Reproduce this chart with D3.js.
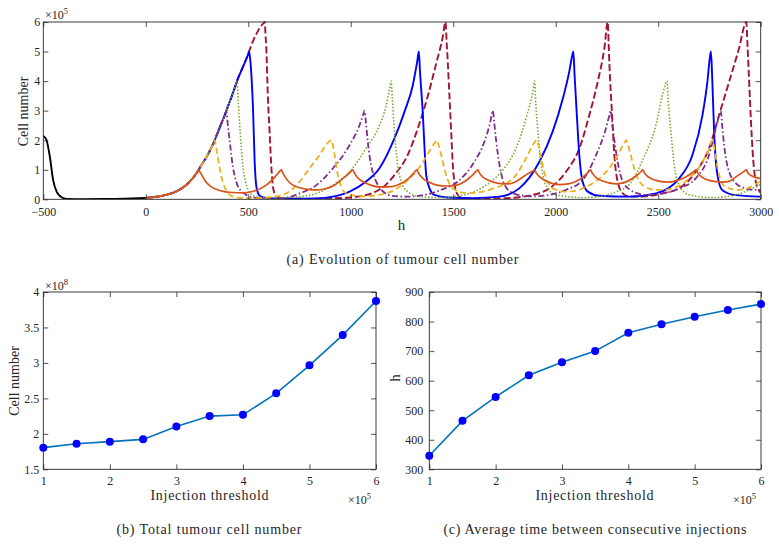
<!DOCTYPE html>
<html>
<head>
<meta charset="utf-8">
<script src="https://d3js.org/d3.v7.min.js"></script>
<style>
  body { margin: 0; background: #fff; }
  text { font-family: "Liberation Serif", "Times New Roman", serif; fill: #262626; }
</style>
</head>
<body>
<div id="fig"></div>
<script>
const W = 779, H = 559;

// ---- (a) time courses, t in h, values in 1e5 cells ----
const xTicksA = [-500, 0, 500, 1000, 1500, 2000, 2500, 3000];
const yTicksA = [0, 1, 2, 3, 4, 5, 6];

// untreated phase before t = 0
const blackPts = [[-500,2.14],[-496,2.12],[-484,2.0],[-468,1.44],[-452,0.65],[-435,0.26],[-420,0.12],
  [-411,0.07],[-386,0.015],[-300,0.006],[-200,0.008],[-100,0.02],[-40,0.035],[0,0.05]];

// shared growth after t = 0, up to the first injection of each threshold
const growth = [[0,0.05],[50,0.085],[100,0.15],[150,0.27],[200,0.5],[230,0.72],[252,0.93],[258,1.0],
  [280,1.25],[300,1.47],[320,1.75],[330,1.9],[336,2.0],[365,2.5],[388,2.9],[393,3.0],[420,3.5],
  [440,3.9],[445,4.0],[475,4.5],[499,4.9],[504,5.0],[520,5.3],[540,5.6],[560,5.85],[575,5.96],[580,6.0]];

const orangePts = [[264,0.93],[275,0.8],[290,0.62],[320,0.42],[360,0.3],[420,0.23],[480,0.22],[530,0.28],
  [588,0.48],[620,0.68],[640,0.84],[655,0.96],[661,1.0],[668,0.9],[685,0.7],[702,0.56],[751,0.39],
  [800,0.33],[832,0.32],[870,0.35],[913,0.45],[962,0.71],[995,0.9],[1004,0.97],[1010,1.0],[1017,0.9],
  [1035,0.72],[1059,0.6],[1100,0.47],[1140,0.42],[1180,0.42],[1220,0.46],[1278,0.68],[1305,0.87],
  [1316,0.96],[1322,1.0],[1329,0.9],[1350,0.72],[1376,0.6],[1420,0.48],[1470,0.45],[1510,0.47],
  [1571,0.68],[1600,0.86],[1614,0.96],[1620,1.0],[1627,0.9],[1645,0.75],[1669,0.65],[1720,0.54],
  [1770,0.52],[1806,0.6],[1863,0.86],[1890,0.96],[1897,1.0],[1904,0.9],[1925,0.74],[1953,0.62],
  [2018,0.5],[2060,0.52],[2099,0.6],[2148,0.84],[2164,0.96],[2170,1.0],[2177,0.9],[2200,0.72],
  [2229,0.62],[2294,0.52],[2340,0.58],[2390,0.78],[2418,0.95],[2425,1.0],[2432,0.9],[2455,0.74],
  [2489,0.64],[2540,0.58],[2570,0.6],[2630,0.74],[2676,0.95],[2685,1.0],[2692,0.9],[2715,0.74],
  [2748,0.64],[2813,0.58],[2850,0.62],[2879,0.76],[2922,0.96],[2930,1.0],[2937,0.9],[2960,0.78],[3000,0.7]];

const yellowPts = [[342,1.8],[352,1.4],[362,1.0],[375,0.6],[392,0.3],[415,0.13],[450,0.06],[520,0.04],
  [600,0.07],[669,0.15],[751,0.6],[799,1.05],[848,1.5],[880,1.85],[898,1.97],[905,2.0],[912,1.85],
  [921,1.5],[937,0.82],[950,0.5],[962,0.3],[994,0.16],[1059,0.1],[1140,0.15],[1197,0.26],[1278,0.65],
  [1343,1.16],[1392,1.72],[1414,1.95],[1421,2.0],[1428,1.85],[1441,1.5],[1465,0.82],[1480,0.55],
  [1498,0.37],[1555,0.22],[1600,0.22],[1636,0.25],[1700,0.38],[1749,0.5],[1806,0.82],[1855,1.38],
  [1892,1.88],[1908,2.0],[1915,1.85],[1929,1.38],[1953,0.71],[1970,0.48],[1985,0.37],[2050,0.26],
  [2090,0.28],[2131,0.37],[2213,0.71],[2294,1.38],[2330,1.85],[2345,2.0],[2352,1.85],[2362,1.6],
  [2383,1.05],[2405,0.65],[2424,0.48],[2489,0.32],[2530,0.32],[2570,0.37],[2651,0.71],[2716,1.27],
  [2750,1.75],[2760,1.95],[2765,2.0],[2772,1.8],[2790,1.05],[2815,0.5],[2850,0.36],[2895,0.32],
  [2950,0.42],[3000,0.62]];

const purplePts = [[399,2.6],[409,2.0],[425,1.1],[437,0.7],[450,0.43],[470,0.25],[490,0.15],[539,0.05],
  [600,0.03],[669,0.04],[751,0.2],[832,0.48],[913,1.05],[994,1.83],[1043,2.51],[1060,2.85],[1067,3.0],
  [1074,2.6],[1083,1.95],[1099,1.16],[1112,0.8],[1124,0.6],[1140,0.4],[1165,0.22],[1197,0.12],
  [1278,0.09],[1360,0.15],[1441,0.32],[1522,0.6],[1603,1.27],[1652,1.95],[1680,2.6],[1689,2.9],
  [1693,3.0],[1700,2.6],[1709,2.0],[1725,1.2],[1740,0.7],[1758,0.4],[1780,0.25],[1806,0.17],
  [1888,0.1],[1969,0.15],[2050,0.32],[2131,0.65],[2197,1.5],[2245,2.4],[2262,2.85],[2268,3.0],
  [2275,2.6],[2286,2.0],[2302,1.27],[2315,0.85],[2327,0.6],[2359,0.34],[2400,0.2],[2440,0.15],
  [2521,0.2],[2602,0.37],[2683,0.71],[2748,1.5],[2781,2.4],[2798,2.85],[2805,3.0],[2812,2.5],
  [2822,1.8],[2834,1.25],[2846,0.93],[2879,0.54],[2927,0.37],[2970,0.32],[3000,0.32]];

const greenPts = [[451,3.3],[461,2.23],[474,1.1],[486,0.6],[499,0.32],[515,0.17],[539,0.09],[600,0.05],
  [669,0.06],[751,0.09],[832,0.2],[913,0.48],[994,0.93],[1075,1.73],[1140,2.5],[1170,3.1],[1190,3.75],
  [1197,4.0],[1203,3.4],[1213,2.29],[1229,1.16],[1246,0.6],[1260,0.38],[1278,0.26],[1327,0.1],
  [1441,0.06],[1530,0.12],[1603,0.26],[1684,0.6],[1749,1.05],[1806,1.72],[1855,2.74],[1888,3.64],
  [1897,4.0],[1903,3.2],[1912,2.4],[1920,1.72],[1937,0.82],[1961,0.37],[2002,0.15],[2131,0.06],
  [2220,0.1],[2294,0.25],[2359,0.5],[2424,1.33],[2489,2.51],[2529,3.75],[2543,4.0],[2549,3.3],
  [2562,2.29],[2578,1.16],[2602,0.48],[2651,0.15],[2765,0.06],[2879,0.15],[2944,0.32],[3000,0.5]];

const bluePts = [[510,4.7],[517,4.0],[523,3.1],[531,1.3],[539,0.45],[547,0.22],[560,0.1],[588,0.05],
  [700,0.02],[832,0.03],[913,0.09],[994,0.26],[1075,0.6],[1140,1.05],[1213,2.06],[1262,2.96],
  [1303,3.87],[1325,4.7],[1332,5.0],[1338,4.3],[1352,2.85],[1360,1.73],[1368,0.82],[1384,0.38],
  [1408,0.15],[1473,0.06],[1600,0.04],[1725,0.09],[1822,0.37],[1920,1.27],[1985,2.29],[2035,3.42],
  [2066,4.32],[2080,4.85],[2086,5.0],[2092,4.2],[2103,2.85],[2115,1.5],[2131,0.6],[2156,0.26],
  [2213,0.12],[2359,0.09],[2489,0.2],[2602,0.71],[2667,1.5],[2716,2.85],[2740,3.98],[2752,4.8],
  [2757,5.0],[2763,4.2],[2773,2.23],[2789,0.82],[2813,0.31],[2879,0.14],[2992,0.09],[3000,0.09]];

const redPts = [[584,5.6],[588,5.1],[596,3.42],[604,2.29],[612,1.16],[620,0.45],[628,0.2],[637,0.09],
  [669,0.03],[800,0.015],[900,0.03],[994,0.06],[1043,0.1],[1116,0.24],[1165,0.45],[1213,0.82],
  [1278,1.5],[1327,2.4],[1376,3.5],[1417,4.6],[1449,5.5],[1462,6.0],[1468,5.3],[1474,4.55],
  [1482,3.42],[1490,2.29],[1498,1.16],[1506,0.55],[1514,0.26],[1538,0.06],[1600,0.03],[1725,0.03],
  [1888,0.15],[1969,0.37],[2050,0.93],[2115,1.72],[2164,2.85],[2205,3.98],[2237,5.1],[2254,6.0],
  [2258,5.3],[2262,4.55],[2275,2.85],[2286,1.5],[2302,0.6],[2327,0.2],[2359,0.09],[2440,0.1],
  [2521,0.2],[2602,0.37],[2683,0.93],[2748,1.72],[2797,2.85],[2846,3.98],[2894,5.1],[2930,6.0],
  [2935,5.3],[2940,4.55],[2951,2.85],[2963,1.38],[2976,0.6],[2992,0.3],[3000,0.22]];

const thresholds = [1, 2, 3, 4, 5, 6];

// ---- (b), (c) ----
const injThreshold = [1, 1.5, 2, 2.5, 3, 3.5, 4, 4.5, 5, 5.5, 6];        // x 1e5
const totalCells = [1.805, 1.86, 1.89, 1.922, 2.105, 2.25, 2.268, 2.571, 2.966, 3.392, 3.873]; // x 1e8
const avgTime = [346, 464, 545, 618, 662, 700, 762, 791, 816, 839, 859];  // h
const xTicksBC = [1, 2, 3, 4, 5, 6];
const yTicksB = [1.5, 2, 2.5, 3, 3.5, 4];
const yTicksC = [300, 400, 500, 600, 700, 800, 900];

const svg = d3.select("#fig").append("svg").attr("width", W).attr("height", H);
const AX = "#262626";

function frame(x, y, xt, yt, xfmt, yfmt, xpad, ypad) {
  const [x0, x1] = x.range(), [y0, y1] = y.range();
  const g = svg.append("g");
  g.append("g").attr("transform", `translate(0,${y0})`)
    .call(d3.axisBottom(x).tickValues(xt).tickFormat(xfmt).tickSizeInner(-5).tickSizeOuter(0).tickPadding(xpad));
  g.append("g").attr("transform", `translate(0,${y1})`)
    .call(d3.axisTop(x).tickValues(xt).tickFormat("").tickSizeInner(-5).tickSizeOuter(0));
  g.append("g").attr("transform", `translate(${x0},0)`)
    .call(d3.axisLeft(y).tickValues(yt).tickFormat(yfmt).tickSizeInner(-5).tickSizeOuter(0).tickPadding(ypad));
  g.append("g").attr("transform", `translate(${x1},0)`)
    .call(d3.axisRight(y).tickValues(yt).tickFormat("").tickSizeInner(-5).tickSizeOuter(0));
  g.selectAll(".domain").remove();
  g.selectAll(".tick line").attr("stroke", AX).attr("stroke-width", 0.8);
  g.selectAll(".tick text").attr("font-family", "Liberation Serif, serif").attr("font-size", 12).attr("fill", AX);
  g.append("rect").attr("x", x0).attr("y", y1).attr("width", x1 - x0).attr("height", y0 - y1)
    .attr("fill", "none").attr("stroke", AX).attr("stroke-width", 0.9);
  return g;
}

function times10(x, y, p) {
  const t = svg.append("text").attr("x", x).attr("y", y).attr("font-size", 12);
  t.append("tspan").text("×10");
  t.append("tspan").attr("dy", -5).attr("font-size", 8.5).text(p);
}

// ---------- (a) ----------
const xA = d3.scaleLinear().domain([-500, 3000]).range([43.3, 760.7]);
const yA = d3.scaleLinear().domain([0, 6]).range([199.3, 22]);

svg.append("clipPath").attr("id", "clipA").append("rect")
  .attr("x", 43.3).attr("y", 21).attr("width", 760.7 - 43.3).attr("height", 199.3 - 21);

const lineA = d3.line().x(d => xA(d[0])).y(d => yA(d[1])).curve(d3.curveMonotoneX);
const series = [
  { pts: redPts,    thr: 6, color: "#A2142F", dash: "7,3",         w: 1.9 },
  { pts: bluePts,   thr: 5, color: "#0000FF", dash: null,          w: 1.9 },
  { pts: greenPts,  thr: 4, color: "#77AC30", dash: "1.5,1.8",     w: 1.6 },
  { pts: purplePts, thr: 3, color: "#7E2F8E", dash: "6,2.5,1.5,2.5", w: 1.8 },
  { pts: yellowPts, thr: 2, color: "#EDB120", dash: "6,3.5",       w: 1.8 },
  { pts: orangePts, thr: 1, color: "#D95319", dash: null,          w: 1.7 }
];

const plotA = svg.append("g").attr("clip-path", "url(#clipA)");
series.forEach(s => {
  const full = growth.filter(d => d[1] <= thresholds[s.thr - 1]).concat(s.pts);
  plotA.append("path").datum(full).attr("d", lineA)
    .attr("fill", "none").attr("stroke", s.color).attr("stroke-width", s.w)
    .attr("stroke-dasharray", s.dash).attr("stroke-linejoin", "round");
});
plotA.append("path").datum(blackPts).attr("d", lineA)
  .attr("fill", "none").attr("stroke", "#000").attr("stroke-width", 1.9);

frame(xA, yA, xTicksA, yTicksA, d3.format("d"), d3.format("d"), 8, 3);
times10(45, 18.5, "5");
svg.append("text").attr("x", 401.5).attr("y", 230).attr("text-anchor", "middle").attr("font-size", 15).text("h");
svg.append("text").attr("transform", "translate(28,111.5) rotate(-90)").attr("text-anchor", "middle")
  .attr("font-size", 14).text("Cell number");
svg.append("text").attr("x", 402.5).attr("y", 264).attr("text-anchor", "middle").attr("font-size", 14)
  .attr("textLength", 232).text("(a) Evolution of tumour cell number");

// ---------- (b) ----------
const xB = d3.scaleLinear().domain([1, 6]).range([43.3, 376]);
const yB = d3.scaleLinear().domain([1.5, 4]).range([469.3, 292]);
frame(xB, yB, xTicksBC, yTicksB, d3.format("d"), d3.format("~g"), 7, 4);

const lineB = d3.line().x((d, i) => xB(injThreshold[i])).y(d => yB(d));
svg.append("path").datum(totalCells).attr("d", lineB)
  .attr("fill", "none").attr("stroke", "#0072BD").attr("stroke-width", 1.6);
svg.append("g").selectAll("circle").data(totalCells).join("circle")
  .attr("cx", (d, i) => xB(injThreshold[i])).attr("cy", d => yB(d)).attr("r", 4).attr("fill", "#0000FF");

times10(45, 289.5, "8");
times10(348, 503.5, "5");
svg.append("text").attr("x", 209.5).attr("y", 500).attr("text-anchor", "middle").attr("font-size", 14)
  .attr("textLength", 118).text("Injection threshold");
svg.append("text").attr("transform", "translate(18.5,381) rotate(-90)").attr("text-anchor", "middle")
  .attr("font-size", 14).text("Cell number");
svg.append("text").attr("x", 209).attr("y", 533.5).attr("text-anchor", "middle").attr("font-size", 14)
  .attr("textLength", 185).text("(b) Total tumour cell number");

// ---------- (c) ----------
const xC = d3.scaleLinear().domain([1, 6]).range([429.3, 761]);
const yC = d3.scaleLinear().domain([300, 900]).range([469.3, 292]);
frame(xC, yC, xTicksBC, yTicksC, d3.format("d"), d3.format("d"), 7, 6);

const lineC = d3.line().x((d, i) => xC(injThreshold[i])).y(d => yC(d));
svg.append("path").datum(avgTime).attr("d", lineC)
  .attr("fill", "none").attr("stroke", "#0072BD").attr("stroke-width", 1.6);
svg.append("g").selectAll("circle").data(avgTime).join("circle")
  .attr("cx", (d, i) => xC(injThreshold[i])).attr("cy", d => yC(d)).attr("r", 4).attr("fill", "#0000FF");

times10(733, 503.5, "5");
svg.append("text").attr("x", 594.5).attr("y", 500).attr("text-anchor", "middle").attr("font-size", 14)
  .attr("textLength", 118).text("Injection threshold");
svg.append("text").attr("transform", "translate(400,378) rotate(-90)").attr("text-anchor", "middle")
  .attr("font-size", 15).text("h");
svg.append("text").attr("x", 595).attr("y", 533.5).attr("text-anchor", "middle").attr("font-size", 14)
  .attr("textLength", 303).text("(c) Average time between consecutive injections");

// top of a cut-off character at the page bottom
svg.append("text").attr("x", 669).attr("y", 566).attr("text-anchor", "middle").attr("font-size", 11).text("1");
</script>
</body>
</html>
